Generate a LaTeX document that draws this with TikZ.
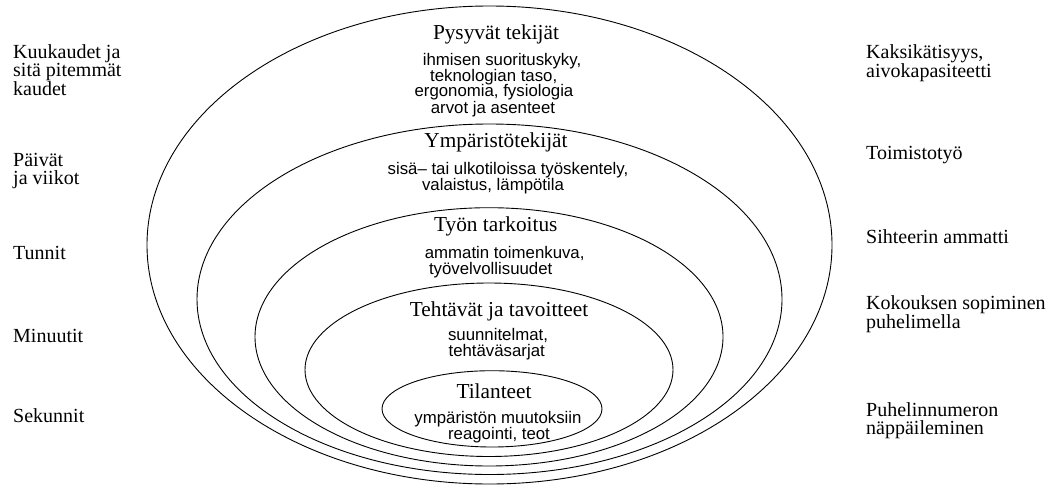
\documentclass[tikz,border=0pt]{standalone}
\usepackage{fontspec}
\setmainfont{Liberation Serif}
\setsansfont{Liberation Sans}
\usetikzlibrary{shapes.geometric}
\begin{document}
\begin{tikzpicture}[x=1pt,y=-1pt,
  ring/.style={draw, ellipse, line width=0.9pt, inner sep=0pt, outer sep=0pt},
  title/.style={font=\fontsize{21.3}{22}\selectfont, inner sep=0pt, anchor=base},
  body/.style={font=\sffamily\fontsize{16.8}{17}\selectfont, inner sep=0pt, anchor=base},
  side/.style={font=\fontsize{20}{17.5}\selectfont, align=left, anchor=west, inner sep=0pt}]
\useasboundingbox (0,0) rectangle (1048,490);
% nested ellipses
\node[ring, minimum width=685pt, minimum height=478pt] (e1) at (489.5,245) {};
\node[ring, minimum width=585pt, minimum height=350.5pt] (e2) at (489.5,299.25) {};
\node[ring, minimum width=468pt, minimum height=258.3pt] (e3) at (489,336.85) {};
\node[ring, minimum width=368pt, minimum height=173.5pt] (e4) at (489,369.75) {};
\node[ring, minimum width=220pt, minimum height=76.3pt] (e5) at (492,408.85) {};
% titles and contents (positions are baselines)
\node[title] (t1) at (496,39.3) {Pysyvät tekijät};
\node[body] (b1a) at (502,65) {ihmisen suorituskyky,};
\node[body] (b1b) at (493.7,81) {teknologian taso,};
\node[body] (b1c) at (494,96.7) {ergonomia, fysiologia};
\node[body] (b1d) at (493,113.3) {arvot ja asenteet};
\node[title] (t2) at (496,147.7) {Ympäristötekijät};
\node[body] (b2a) at (508,174) {sisä– tai ulkotiloissa työskentely,};
\node[body] (b2b) at (493,190.7) {valaistus, lämpötila};
\node[title] (t3) at (495.8,231.7) {Työn tarkoitus};
\node[body] (b3a) at (504.7,258.3) {ammatin toimenkuva,};
\node[body] (b3b) at (490.7,274) {työvelvollisuudet};
\node[title] (t4) at (499,316) {Tehtävät ja tavoitteet};
\node[body] (b4a) at (498,340) {suunnitelmat,};
\node[body] (b4b) at (496.7,356) {tehtäväsarjat};
\node[title] (t5) at (494,398.3) {Tilanteet};
\node[body] (b5a) at (498,423.3) {ympäristön muutoksiin};
\node[body] (b5b) at (499,439.3) {reagointi, teot};
% time scale (left)
\node[side] (l1) at (13,70) {Kuukaudet ja\\sitä pitemmät\\kaudet};
\node[side] (l2) at (13,171) {Päivät\\ja viikot};
\node[side] (l3) at (13,253) {Tunnit};
\node[side] (l4) at (13,336) {Minuutit};
\node[side] (l5) at (13,416) {Sekunnit};
% examples (right)
\node[side] (r1) at (866,63) {Kaksikätisyys,\\aivokapasiteetti};
\node[side] (r2) at (866,155) {Toimistotyö};
\node[side] (r3) at (866,237) {Sihteerin ammatti};
\node[side] (r4) at (866,314.5) {Kokouksen sopiminen\\puhelimella};
\node[side] (r5) at (866,420.5) {Puhelinnumeron\\näppäileminen};
\end{tikzpicture}
\end{document}
